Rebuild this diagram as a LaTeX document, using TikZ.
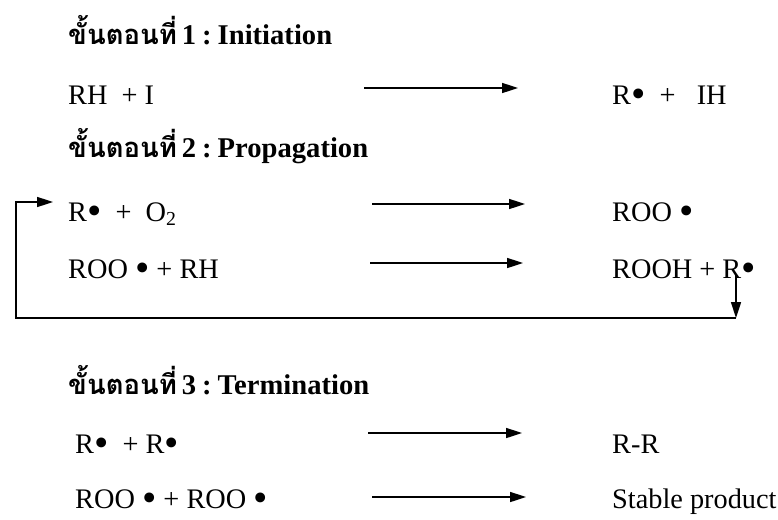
\documentclass[tikz,border=0pt]{standalone}
\usepackage{fontspec}
\usepackage{graphicx}
\setmainfont{Liberation Serif}
\newfontfamily\thaifont[Script=Thai,Scale=0.96]{Loma}
\usetikzlibrary{arrows.meta}
% radical dot: an enlarged, slightly lowered bullet
\newcommand\rad{\smash{\raisebox{-3.5pt}{\scalebox{1.45}{•}}}}
% step heading: Thai word, step number, colon, English name
\newcommand\stephead[2]{{\thaifont ขั้นตอนที่}\hspace{5pt}#1\hspace{6pt}:\hspace{6pt}#2}
\begin{document}
\begin{tikzpicture}[x=1pt,y=-1pt,
  txt/.style={anchor=base west,inner sep=0pt,font=\fontsize{28.3}{30}\selectfont},
  head/.style={anchor=base west,inner sep=0pt,font=\fontsize{28.6}{30}\selectfont\bfseries},
  rxn/.style={line width=1.6pt,-{Triangle[length=16pt,width=10pt]}},
  loop/.style={line width=1.6pt}]
\useasboundingbox (0,0) rectangle (778,519);

% step 1
\node[head] (h1) at (68,45) {\stephead{1}{Initiation}};
\node[txt] (r1) at (68,104) {RH \ + I};
\node[txt] (p1) at (612,104) {R\rad\ \ + \ \ IH};
\coordinate (a1s) at (364,88);
\coordinate (a1e) at (518,88);
\draw[rxn] (a1s) -- (a1e);

% step 2
\node[head] (h2) at (68,157) {\stephead{2}{Propagation}};
\node[txt] (r2) at (68,221) {R\rad\ \ + \ O\textsubscript{2}};
\node[txt] (p2) at (612,221) {ROO \rad};
\coordinate (a2s) at (372,204);
\coordinate (a2e) at (525,204);
\draw[rxn] (a2s) -- (a2e);

\node[txt] (r3) at (68,278) {ROO \rad\ + RH};
\node[txt] (p3) at (612,278) {ROOH + R\rad};
\coordinate (a3s) at (370,263);
\coordinate (a3e) at (523,263);
\draw[rxn] (a3s) -- (a3e);

% radical recycling loop
\coordinate (ld0) at (736,275);
\coordinate (ld1) at (736,318);
\coordinate (ll) at (16,318);
\coordinate (lu) at (16,202);
\coordinate (le) at (53,202);
\draw[rxn] (ld0) -- (ld1);
\draw[loop,-{Triangle[length=16pt,width=10pt]}] (ld1) -- (ll) -- (lu) -- (le);

% step 3
\node[head] (h3) at (68,394) {\stephead{3}{Termination}};
\node[txt] (r4) at (75,453) {R\rad\ \ + R\rad};
\node[txt] (p4) at (612,453) {R-R};
\coordinate (a4s) at (368,433);
\coordinate (a4e) at (522,433);
\draw[rxn] (a4s) -- (a4e);

\node[txt] (r5) at (75,508) {ROO \rad\ + ROO \rad};
\node[txt] (p5) at (612,508) {Stable product};
\coordinate (a5s) at (372,497);
\coordinate (a5e) at (526,497);
\draw[rxn] (a5s) -- (a5e);
\end{tikzpicture}
\end{document}
